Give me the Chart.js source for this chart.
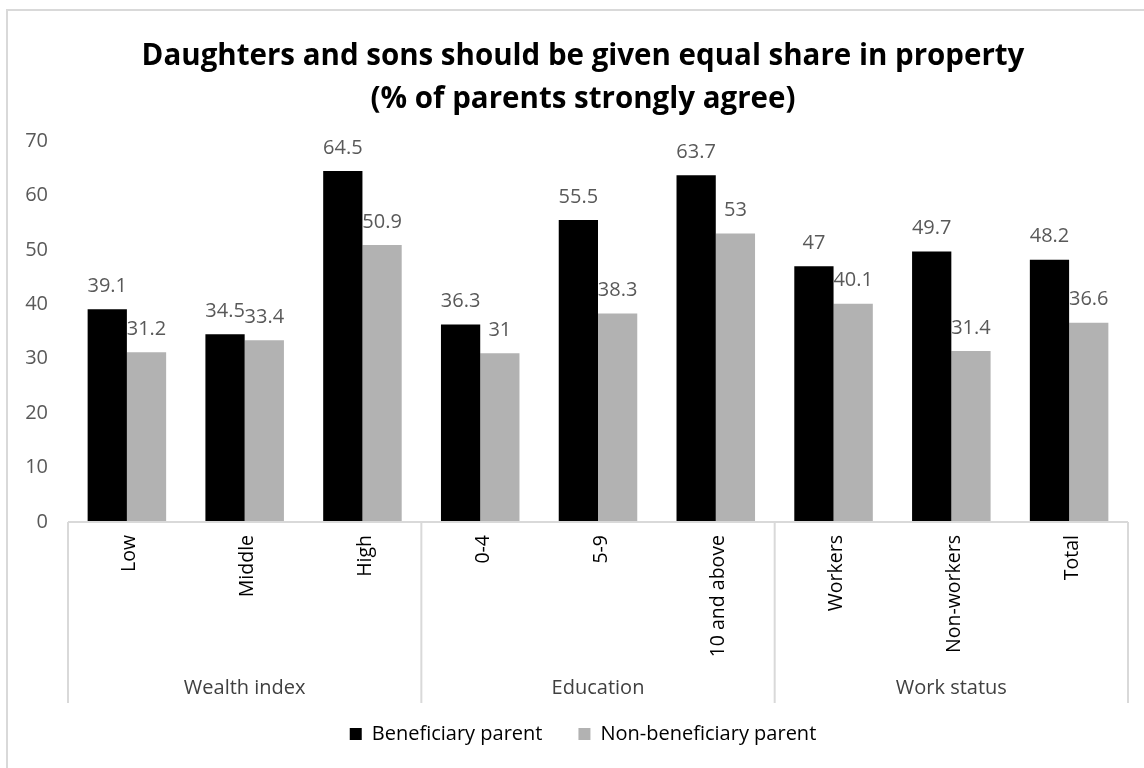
<!DOCTYPE html>
<html>
<head>
<meta charset="utf-8">
<script src="https://cdn.jsdelivr.net/npm/chart.js@4.4.1/dist/chart.umd.min.js"></script>
<style>
  html, body { margin: 0; padding: 0; background: #ffffff; }
  #wrap { width: 1144px; height: 768px; position: relative; }
</style>
</head>
<body>
<div id="wrap"><canvas id="chart" width="1144" height="768"></canvas></div>
<script>
// Categories along the x axis and the group each block of three belongs to
const categories = ['Low', 'Middle', 'High', '0-4', '5-9', '10 and above', 'Workers', 'Non-workers', 'Total'];
const groupNames = ['Wealth index', 'Education', 'Work status'];
const groupSizes = [3, 3, 3];

// Share of parents who strongly agree (%)
const beneficiaryParent = [39.1, 34.5, 64.5, 36.3, 55.5, 63.7, 47, 49.7, 48.2];
const nonBeneficiaryParent = [31.2, 33.4, 50.9, 31, 38.3, 53, 40.1, 31.4, 36.6];

// Value axis range and step
const yMin = 0;
const yMax = 70;
const yStep = 10;

const titleLines = ['Daughters and sons should be given equal share in property', '(% of parents strongly agree)'];

const FONT = "'Open Sans', 'DejaVu Sans', sans-serif";
const AXIS_GREY = '#d9d9d9';
const CAT_AXIS_DEPTH = 181;   // depth of the two-level category axis below the plot

// White background and the light chart border
const chartFrame = {
  id: 'chartFrame',
  beforeDraw(chart) {
    const ctx = chart.ctx;
    ctx.save();
    ctx.fillStyle = '#ffffff';
    ctx.fillRect(0, 0, chart.width, chart.height);
    ctx.strokeStyle = AXIS_GREY;
    ctx.lineWidth = 2;
    ctx.strokeRect(7, 10, chart.width + 40, chart.height + 40);
    ctx.restore();
  }
};

// Category axis line, group separators and group captions
const groupedAxis = {
  id: 'groupedAxis',
  afterDraw(chart) {
    const xs = chart.scales.x;
    const ctx = chart.ctx;
    const top = chart.chartArea.bottom;
    const bottom = top + CAT_AXIS_DEPTH;
    const half = (xs.getPixelForValue(1) - xs.getPixelForValue(0)) / 2;
    const leftEdge = xs.getPixelForValue(0) - half;
    const rightEdge = xs.getPixelForValue(categories.length - 1) + half;

    ctx.save();
    ctx.strokeStyle = AXIS_GREY;
    ctx.lineWidth = 2;
    ctx.beginPath();
    ctx.moveTo(leftEdge, top);
    ctx.lineTo(rightEdge, top);
    ctx.stroke();

    let start = 0;
    const bounds = [leftEdge];
    groupSizes.forEach(n => {
      start += n;
      bounds.push(xs.getPixelForValue(start - 1) + half);
    });
    bounds.forEach(b => {
      ctx.beginPath();
      ctx.moveTo(b, top);
      ctx.lineTo(b, bottom);
      ctx.stroke();
    });

    ctx.fillStyle = '#404040';
    ctx.font = '20px ' + FONT;
    ctx.textAlign = 'center';
    ctx.textBaseline = 'middle';
    groupNames.forEach((name, i) => {
      ctx.fillText(name, (bounds[i] + bounds[i + 1]) / 2, top + 166);
    });
    ctx.restore();
  }
};

// Value labels above each bar
const barValues = {
  id: 'barValues',
  afterDatasetsDraw(chart) {
    const ctx = chart.ctx;
    ctx.save();
    ctx.fillStyle = '#595959';
    ctx.font = '20px ' + FONT;
    ctx.textAlign = 'center';
    ctx.textBaseline = 'middle';
    chart.data.datasets.forEach((ds, i) => {
      chart.getDatasetMeta(i).data.forEach((bar, j) => {
        ctx.fillText(String(ds.data[j]), bar.x, bar.y - 23);
      });
    });
    ctx.restore();
  }
};

new Chart(document.getElementById('chart'), {
  type: 'bar',
  data: {
    labels: categories,
    datasets: [
      {
        label: 'Beneficiary parent',
        data: beneficiaryParent,
        backgroundColor: '#000000',
        borderWidth: 0,
        categoryPercentage: 2 / 3,
        barPercentage: 1
      },
      {
        label: 'Non-beneficiary parent',
        data: nonBeneficiaryParent,
        backgroundColor: '#b2b2b2',
        borderWidth: 0,
        categoryPercentage: 2 / 3,
        barPercentage: 1
      }
    ]
  },
  options: {
    responsive: false,
    animation: false,
    devicePixelRatio: 1,
    layout: { padding: { left: 22, right: 0, top: 0, bottom: 14 } },
    plugins: {
      title: {
        display: true,
        text: titleLines,
        color: '#000000',
        font: { family: FONT, size: 29.5, weight: 'bold', lineHeight: '43px' },
        padding: { top: 35.5, bottom: 19.5 }
      },
      legend: {
        position: 'bottom',
        labels: {
          boxWidth: 12,
          boxHeight: 12,
          padding: 36,
          color: '#000000',
          font: { family: FONT, size: 20 }
        }
      },
      tooltip: { enabled: false }
    },
    scales: {
      x: {
        grid: { display: false, drawTicks: false },
        border: { display: false },
        ticks: {
          autoSkip: false,
          minRotation: 90,
          maxRotation: 90,
          padding: 13,
          labelOffset: 3,
          color: '#000000',
          font: { family: FONT, size: 19.5 }
        },
        afterFit(scale) { scale.height = 166; }
      },
      y: {
        min: yMin,
        max: yMax,
        grid: { display: false, drawTicks: false },
        border: { display: false },
        ticks: {
          stepSize: yStep,
          padding: 20,
          color: '#595959',
          font: { family: FONT, size: 20 }
        },
        afterFit(scale) { scale.width = 46; }
      },
      // blank margin on the right of the plot
      yRight: {
        type: 'linear',
        position: 'right',
        display: true,
        grid: { display: false, drawTicks: false },
        border: { display: false },
        ticks: { display: false },
        afterFit(scale) { scale.width = 16; }
      }
    }
  },
  plugins: [chartFrame, groupedAxis, barValues]
});
</script>
</body>
</html>
